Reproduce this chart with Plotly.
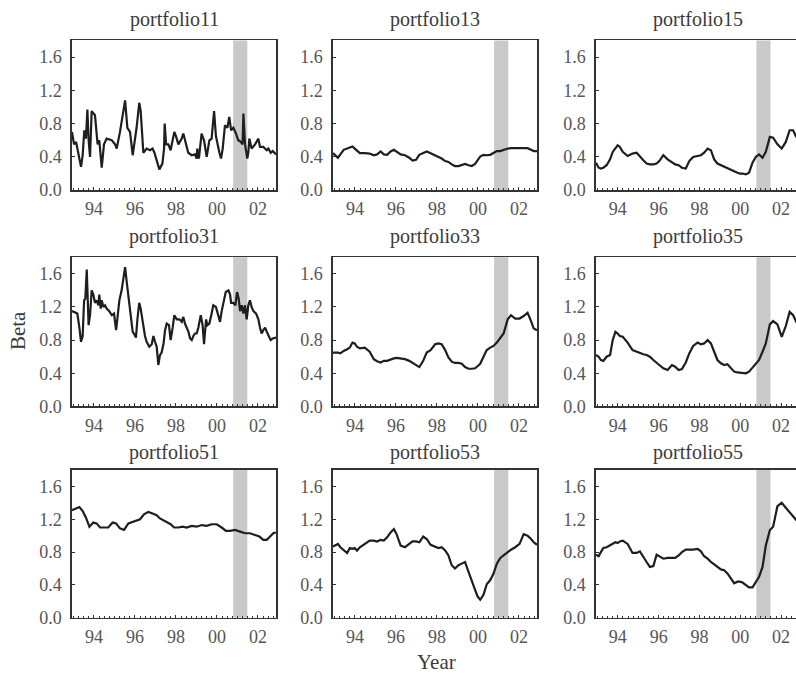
import plotly.graph_objects as go

# ---------------- data (years, beta values) ----------------
p11_x = [1992.93, 1993.03, 1993.13, 1993.29, 1993.37, 1993.45, 1993.53, 1993.61, 1993.68, 1993.74,
         1993.81, 1993.89, 1994.05, 1994.18, 1994.26, 1994.38, 1994.49, 1994.62, 1994.87, 1995.03,
         1995.11, 1995.27, 1995.40, 1995.52, 1995.63, 1995.76, 1995.89, 1996.00, 1996.08, 1996.21,
         1996.28, 1996.41, 1996.57, 1996.73, 1996.86, 1996.95, 1997.14, 1997.19, 1997.34, 1997.42,
         1997.45, 1997.52, 1997.63, 1997.74, 1997.92, 1998.00, 1998.12, 1998.28, 1998.36, 1998.52,
         1998.60, 1998.77, 1998.93, 1999.01, 1999.04, 1999.12, 1999.25, 1999.37, 1999.50, 1999.63,
         1999.74, 1999.86, 1999.95, 2000.12, 2000.20, 2000.28, 2000.39, 2000.51, 2000.60, 2000.69,
         2000.80, 2000.93, 2001.04, 2001.16, 2001.25, 2001.29, 2001.37, 2001.48, 2001.53, 2001.58,
         2001.69, 2001.86, 2002.02, 2002.10, 2002.26, 2002.43, 2002.51, 2002.62, 2002.72, 2002.88]
p11_y = [0.70, 0.55, 0.58, 0.35, 0.28, 0.42, 0.72, 0.62, 0.97, 0.60,
         0.40, 0.95, 0.90, 0.55, 0.60, 0.27, 0.55, 0.62, 0.60, 0.55,
         0.50, 0.70, 0.90, 1.08, 0.75, 0.70, 0.42, 0.60, 0.75, 1.05,
         0.95, 0.45, 0.50, 0.48, 0.50, 0.45, 0.30, 0.25, 0.32, 0.50,
         0.80, 0.55, 0.55, 0.48, 0.70, 0.65, 0.55, 0.62, 0.68, 0.50,
         0.45, 0.42, 0.43, 0.38, 0.50, 0.38, 0.68, 0.60, 0.40, 0.60,
         0.62, 0.95, 0.65, 0.45, 0.38, 0.50, 0.78, 0.75, 0.88, 0.72,
         0.75, 0.68, 0.60, 0.58, 0.55, 0.92, 0.55, 0.38, 0.45, 0.62,
         0.50, 0.55, 0.62, 0.52, 0.52, 0.48, 0.50, 0.45, 0.47, 0.43]

p31_x = [1992.93, 1993.08, 1993.19, 1993.29, 1993.37, 1993.45, 1993.52, 1993.58, 1993.65, 1993.69,
         1993.74, 1993.81, 1993.89, 1993.97, 1994.05, 1994.13, 1994.22, 1994.26, 1994.33, 1994.38,
         1994.46, 1994.54, 1994.62, 1994.75, 1994.87, 1994.98, 1995.08, 1995.14, 1995.24, 1995.35,
         1995.43, 1995.52, 1995.60, 1995.68, 1995.79, 1995.89, 1995.95, 1996.05, 1996.12, 1996.21,
         1996.28, 1996.38, 1996.49, 1996.57, 1996.70, 1996.82, 1996.90, 1996.98, 1997.06, 1997.14,
         1997.22, 1997.30, 1997.39, 1997.47, 1997.55, 1997.66, 1997.74, 1997.84, 1997.92, 1998.04,
         1998.17, 1998.28, 1998.36, 1998.44, 1998.52, 1998.61, 1998.69, 1998.77, 1998.85, 1998.93,
         1999.01, 1999.09, 1999.21, 1999.30, 1999.37, 1999.47, 1999.53, 1999.63, 1999.74, 1999.82,
         1999.95, 2000.07, 2000.15, 2000.23, 2000.35, 2000.43, 2000.56, 2000.64, 2000.69, 2000.80,
         2000.90, 2000.98, 2001.06, 2001.13, 2001.21, 2001.29, 2001.37, 2001.45, 2001.53, 2001.61,
         2001.69, 2001.78, 2001.91, 2002.02, 2002.10, 2002.18, 2002.26, 2002.35, 2002.43, 2002.51,
         2002.62, 2002.72, 2002.88]
p31_y = [1.15, 1.13, 1.12, 0.95, 0.78, 0.85, 1.28, 1.30, 1.65, 1.35,
         0.98, 1.10, 1.40, 1.35, 1.25, 1.28, 1.22, 1.35, 1.18, 1.28,
         1.20, 1.22, 1.18, 1.15, 1.10, 1.12, 0.92, 1.05, 1.28, 1.40,
         1.55, 1.68, 1.50, 1.35, 1.15, 0.90, 0.88, 0.83, 1.05, 1.25,
         1.18, 1.00, 0.85, 0.78, 0.72, 0.75, 0.85, 0.78, 0.72, 0.50,
         0.62, 0.65, 0.75, 0.92, 1.00, 0.98, 0.80, 0.95, 1.10, 1.05,
         1.05, 1.02, 1.08, 1.00, 0.95, 0.90, 0.82, 0.80, 0.85, 0.88,
         0.88, 0.95, 1.10, 0.98, 0.75, 1.05, 0.98, 1.00, 1.12, 1.22,
         1.20, 1.10, 1.02, 1.15, 1.30, 1.38, 1.40, 1.35, 1.25, 1.25,
         1.22, 1.38, 1.30, 1.15, 1.22, 1.12, 1.22, 1.05, 1.22, 1.28,
         1.20, 1.15, 1.12, 1.05, 0.95, 0.88, 0.92, 0.95, 0.90, 0.85,
         0.80, 0.82, 0.83]

p51_x = [1992.93, 1993.08, 1993.29, 1993.45, 1993.61, 1993.78, 1993.97, 1994.13, 1994.30, 1994.49,
         1994.70, 1994.91, 1995.08, 1995.27, 1995.47, 1995.68, 1995.89, 1996.08, 1996.25, 1996.44,
         1996.65, 1996.86, 1997.06, 1997.22, 1997.39, 1997.55, 1997.74, 1997.91, 1998.12, 1998.33,
         1998.52, 1998.77, 1999.01, 1999.26, 1999.50, 1999.74, 1999.99, 2000.23, 2000.44, 2000.64,
         2000.88, 2001.13, 2001.37, 2001.61, 2001.86, 2002.07, 2002.26, 2002.43, 2002.59, 2002.75,
         2002.88]
p51_y = [1.31, 1.33, 1.35, 1.30, 1.22, 1.11, 1.16, 1.15, 1.10, 1.10,
         1.10, 1.16, 1.15, 1.09, 1.07, 1.15, 1.17, 1.18, 1.20, 1.26,
         1.29, 1.27, 1.25, 1.21, 1.19, 1.17, 1.14, 1.10, 1.10, 1.11,
         1.10, 1.12, 1.11, 1.13, 1.12, 1.14, 1.14, 1.10, 1.06, 1.06,
         1.07, 1.05, 1.03, 1.03, 1.01, 0.99, 0.95, 0.95, 0.99, 1.03,
         1.04]

# common time grid for portfolios 13, 15, 33, 35, 53, 55
grid_x = [1992.93, 1993.06, 1993.17, 1993.29, 1993.45, 1993.62, 1993.75, 1993.88, 1993.99, 1994.10,
          1994.24, 1994.48, 1994.72, 1994.92, 1995.08, 1995.25, 1995.41, 1995.57, 1995.74, 1995.90,
          1996.03, 1996.23, 1996.44, 1996.65, 1996.81, 1996.98, 1997.14, 1997.33, 1997.50, 1997.69,
          1997.91, 1998.07, 1998.23, 1998.40, 1998.56, 1998.72, 1998.88, 1999.05, 1999.21, 1999.37,
          1999.54, 1999.70, 1999.86, 1999.98, 2000.11, 2000.27, 2000.43, 2000.60, 2000.76, 2000.92,
          2001.09, 2001.25, 2001.45, 2001.61, 2001.82, 2002.03, 2002.23, 2002.42, 2002.59, 2002.72,
          2002.88]

p13_y = [0.445, 0.41, 0.39, 0.43, 0.485, 0.50, 0.51, 0.525, 0.50, 0.47,
         0.445, 0.445, 0.44, 0.42, 0.43, 0.465, 0.43, 0.425, 0.465, 0.485,
         0.46, 0.43, 0.42, 0.39, 0.355, 0.365, 0.425, 0.445, 0.465, 0.445,
         0.42, 0.405, 0.38, 0.35, 0.34, 0.31, 0.29, 0.29, 0.30, 0.315,
         0.30, 0.29, 0.315, 0.365, 0.405, 0.425, 0.42, 0.425, 0.445, 0.47,
         0.47, 0.485, 0.50, 0.505, 0.505, 0.50, 0.505, 0.505, 0.485, 0.47, 0.47]

p15_y = [0.33, 0.27, 0.26, 0.27, 0.30, 0.37, 0.46, 0.51, 0.54, 0.52,
         0.46, 0.41, 0.44, 0.45, 0.40, 0.36, 0.32, 0.31, 0.31, 0.32,
         0.35, 0.42, 0.37, 0.33, 0.31, 0.30, 0.27, 0.26, 0.35, 0.40,
         0.41, 0.42, 0.45, 0.50, 0.48, 0.37, 0.32, 0.30, 0.28, 0.26,
         0.24, 0.22, 0.21, 0.20, 0.20, 0.19, 0.21, 0.33, 0.40, 0.43,
         0.39, 0.46, 0.64, 0.63, 0.55, 0.50, 0.58, 0.72, 0.72, 0.65, 0.60]

p33_y = [0.65, 0.65, 0.65, 0.64, 0.67, 0.69, 0.71, 0.77, 0.76, 0.72,
         0.70, 0.71, 0.66, 0.57, 0.545, 0.53, 0.55, 0.55, 0.57, 0.58,
         0.585, 0.58, 0.57, 0.55, 0.525, 0.495, 0.475, 0.55, 0.65, 0.68,
         0.75, 0.76, 0.75, 0.68, 0.59, 0.54, 0.525, 0.525, 0.515, 0.475,
         0.455, 0.455, 0.46, 0.485, 0.515, 0.60, 0.68, 0.71, 0.73, 0.77,
         0.82, 0.88, 1.05, 1.10, 1.06, 1.06, 1.09, 1.13, 1.03, 0.94, 0.92]

p35_y = [0.62, 0.60, 0.56, 0.55, 0.60, 0.62, 0.80, 0.90, 0.88, 0.85,
         0.84, 0.77, 0.68, 0.66, 0.64, 0.63, 0.62, 0.60, 0.56, 0.52,
         0.50, 0.46, 0.44, 0.50, 0.48, 0.44, 0.45, 0.53, 0.64, 0.73,
         0.77, 0.75, 0.76, 0.80, 0.76, 0.66, 0.56, 0.52, 0.50, 0.51,
         0.47, 0.42, 0.41, 0.405, 0.405, 0.40, 0.42, 0.47, 0.51, 0.56,
         0.66, 0.76, 0.99, 1.03, 0.99, 0.84, 0.97, 1.14, 1.10, 1.02, 0.95]

p53_y = [0.87, 0.89, 0.90, 0.86, 0.82, 0.79, 0.85, 0.84, 0.85, 0.82,
         0.86, 0.90, 0.94, 0.94, 0.93, 0.95, 0.94, 0.98, 1.04, 1.08,
         1.02, 0.88, 0.86, 0.90, 0.93, 0.93, 0.92, 0.99, 0.96, 0.89,
         0.87, 0.85, 0.86, 0.82, 0.76, 0.64, 0.60, 0.64, 0.66, 0.68,
         0.56, 0.46, 0.34, 0.26, 0.22, 0.28, 0.41, 0.46, 0.54, 0.66,
         0.73, 0.76, 0.80, 0.83, 0.86, 0.90, 1.02, 1.00, 0.96, 0.92, 0.89]

p55_y = [0.77, 0.75, 0.80, 0.85, 0.86, 0.88, 0.90, 0.92, 0.91, 0.93,
         0.94, 0.90, 0.79, 0.79, 0.81, 0.75, 0.68, 0.62, 0.63, 0.77,
         0.75, 0.72, 0.73, 0.73, 0.73, 0.76, 0.80, 0.83, 0.83, 0.83,
         0.84, 0.81, 0.75, 0.72, 0.68, 0.65, 0.62, 0.59, 0.58, 0.54,
         0.48, 0.42, 0.44, 0.44, 0.43, 0.40, 0.37, 0.37, 0.44, 0.50,
         0.62, 0.88, 1.07, 1.11, 1.36, 1.40, 1.34, 1.28, 1.23, 1.19, 1.15]

titles = ["portfolio11", "portfolio13", "portfolio15",
          "portfolio31", "portfolio33", "portfolio35",
          "portfolio51", "portfolio53", "portfolio55"]
series = [(p11_x, p11_y), (grid_x, p13_y), (grid_x, p15_y),
          (p31_x, p31_y), (grid_x, p33_y), (grid_x, p35_y),
          (p51_x, p51_y), (grid_x, p53_y), (grid_x, p55_y)]

band = [2000.79, 2001.48]
x_ticks = [1994, 1996, 1998, 2000, 2002]
x_tick_text = ["94", "96", "98", "00", "02"]
y_ticks = [0.0, 0.4, 0.8, 1.2, 1.6]

# ---------------- layout ----------------
W, H = 796, 684
col_px = [(72, 276), (333, 537), (596, 796)]
row_px = [(41, 193), (261, 412.5), (477, 627)]
col_ranges = [[1992.93, 2002.88], [1992.93, 2002.88], [1992.93, 2002.73]]
title_cx = [174, 435, 698]
title_cy = [20, 240, 459]

FONT = "Liberation Serif"
TXT = "#3a3a3a"
AX = "#333333"
TICKFONT = dict(family=FONT, size=18, color="#555555")

fig = go.Figure()
annotations = []
shapes = []

for i in range(9):
    r, c = divmod(i, 3)
    n = i + 1
    xa = "x" if n == 1 else f"x{n}"
    ya = "y" if n == 1 else f"y{n}"
    xs, ys = series[i]
    fig.add_trace(go.Scatter(x=xs, y=ys, mode="lines", xaxis=xa, yaxis=ya,
                             line=dict(color="#1e1e1e", width=2.2), showlegend=False,
                             hoverinfo="skip"))
    xdom = [col_px[c][0] / W, col_px[c][1] / W]
    ydom = [1 - row_px[r][1] / H, 1 - row_px[r][0] / H]
    xkey = "xaxis" if n == 1 else f"xaxis{n}"
    ykey = "yaxis" if n == 1 else f"yaxis{n}"
    fig.layout[xkey] = dict(
        domain=xdom, anchor=ya, range=col_ranges[c],
        tickvals=x_ticks, ticktext=x_tick_text, ticks="inside", ticklen=3,
        tickcolor=AX, showline=True, linecolor=AX, linewidth=1.6, mirror=True,
        showgrid=False, zeroline=False, fixedrange=True,
        tickfont=TICKFONT, ticklabelstandoff=2,
        minor=dict(dtick=0.25, tick0=1994, ticks="inside", ticklen=2, tickcolor=AX, showgrid=False),
    )
    fig.layout[ykey] = dict(
        domain=ydom, anchor=xa, range=[0, 1.8],
        tickvals=y_ticks, tickformat=".1f", ticks="inside", ticklen=3,
        tickcolor=AX, showline=True, linecolor=AX, linewidth=1.6, mirror=(c != 2),
        showgrid=False, zeroline=False, fixedrange=True,
        tickfont=TICKFONT, ticklabelstandoff=5,
    )
    shapes.append(dict(type="rect", xref=xa, yref=f"{ya} domain", x0=band[0], x1=band[1],
                       y0=0, y1=1, fillcolor="#c9c9c9", line=dict(width=0), layer="below"))
    annotations.append(dict(text=titles[i], xref="paper", yref="paper",
                            x=title_cx[c] / W, y=1 - title_cy[r] / H,
                            xanchor="center", yanchor="middle", showarrow=False,
                            font=dict(family=FONT, size=20, color=TXT)))

annotations.append(dict(text="Beta", xref="paper", yref="paper", x=18 / W, y=1 - 336 / H,
                        textangle=-90, xanchor="center", yanchor="middle", showarrow=False,
                        font=dict(family=FONT, size=21, color=TXT)))
annotations.append(dict(text="Year", xref="paper", yref="paper", x=436 / W, y=1 - 672 / H,
                        xanchor="center", yanchor="middle", showarrow=False,
                        font=dict(family=FONT, size=21, color=TXT)))

fig.update_layout(width=W, height=H, margin=dict(l=0, r=0, t=0, b=0),
                  font=dict(family=FONT, color=TXT),
                  paper_bgcolor="white", plot_bgcolor="white",
                  annotations=annotations, shapes=shapes)

fig.write_html("out.html", config={"displayModeBar": False, "staticPlot": True},
               post_script="document.body.style.margin='0';document.body.style.overflow='hidden';")
